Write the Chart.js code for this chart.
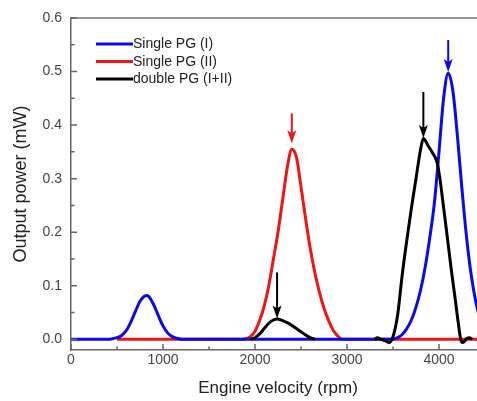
<!DOCTYPE html>
<html>
<head>
<meta charset="utf-8">
<script src="https://cdn.jsdelivr.net/npm/chart.js@4"></script>
<style>
html,body{margin:0;padding:0;background:#fff;overflow:hidden;}
#wrap{width:477px;height:401px;overflow:hidden;position:relative;}
canvas{display:block;}
</style>
</head>
<body>
<div id="wrap"><canvas id="c" width="490" height="401" style="width:490px;height:401px"></canvas></div>
<script>
// ---- data ----
const blueRpm   = [0, 400, 450, 500, 550, 600, 650, 700, 750, 800, 825, 850, 900, 950, 1000, 1050, 1100, 1150, 1200,
                   3500, 3550, 3600, 3650, 3700, 3750, 3800, 3850, 3900, 3950, 4000, 4050, 4100, 4150, 4200, 4250, 4300, 4350, 4400, 4450, 4500];
const bluePower = [0, 0, 0.001, 0.003, 0.007, 0.016, 0.032, 0.052, 0.071, 0.081, 0.082, 0.079, 0.064, 0.044, 0.025, 0.012, 0.005, 0.002, 0,
                   0, 0.003, 0.009, 0.02, 0.036, 0.06, 0.092, 0.135, 0.19, 0.255, 0.35, 0.45, 0.497, 0.465, 0.38, 0.28, 0.19, 0.12, 0.07, 0.035, 0.012];

const redRpm   = [500, 1850, 1900, 1950, 2000, 2050, 2100, 2150, 2200, 2250, 2300, 2350, 2400, 2450, 2500, 2550, 2600, 2650, 2700, 2750, 2800, 2850, 2900, 2950, 4500];
const redPower = [0, 0, 0.001, 0.005, 0.015, 0.035, 0.062, 0.1, 0.15, 0.2, 0.26, 0.32, 0.355, 0.34, 0.285, 0.225, 0.17, 0.125, 0.088, 0.058, 0.035, 0.017, 0.006, 0, 0];

const blackRpm   = [1950, 2000, 2050, 2100, 2150, 2200, 2240, 2300, 2350, 2400, 2450, 2500, 2550, 2600, 2650,
                    3000,
                    3300, 3330, 3370, 3420, 3460, 3500, 3550, 3600, 3650, 3700, 3750, 3800, 3830, 3880, 3930, 3980, 4010, 4040, 4080, 4130, 4180, 4210, 4240, 4260, 4300, 4330, 4360];
const blackPower = [0, 0.003, 0.01, 0.02, 0.03, 0.036, 0.038, 0.035, 0.031, 0.026, 0.02, 0.014, 0.008, 0.003, 0,
                    null,
                    0, 0.003, 0, -0.003, -0.006, 0.005, 0.045, 0.12, 0.185, 0.245, 0.3, 0.355, 0.375, 0.362, 0.348, 0.33, 0.3, 0.26, 0.205, 0.135, 0.07, 0.03, -0.003, -0.006, 0.001, 0.003, 0];

const seriesNames  = ['Single PG (I)', 'Single PG (II)', 'double PG (I+II)'];
const seriesColors = ['#0a0af0', '#f01414', '#000000'];

const xTicks = [0, 1000, 2000, 3000, 4000];
const xMinorTicks = [500, 1500, 2500, 3500];
const yTicks = [0, 0.1, 0.2, 0.3, 0.4, 0.5, 0.6];
const yMinorTicks = [0.05, 0.15, 0.25, 0.35, 0.45, 0.55];

// arrows: x position, top value, tip value, colour index
const arrowRpm   = [2400, 4100, 3830, 2240];
const arrowTop   = [0.422, 0.559, 0.462, 0.125];
const arrowTip   = [0.366, 0.499, 0.376, 0.039];
const arrowColor = [1, 0, 2, 2];

const xTitle = 'Engine velocity (rpm)';
const yTitle = 'Output power (mW)';

const FONT = '"Liberation Sans", Arial, sans-serif';

function pts(xs, ys){ return xs.map((x,i)=>({x:x, y:ys[i]})); }

const decor = {
  id:'decor',
  afterDatasetsDraw(chart){
    const ctx = chart.ctx, xs = chart.scales.x, ys = chart.scales.y;
    ctx.save();
    arrowRpm.forEach((r,i)=>{
      const px = xs.getPixelForValue(r);
      const pt = ys.getPixelForValue(arrowTop[i]);
      const pk = ys.getPixelForValue(arrowTip[i]);
      const col = seriesColors[arrowColor[i]];
      ctx.strokeStyle = col; ctx.fillStyle = col; ctx.lineWidth = 2;
      ctx.beginPath(); ctx.moveTo(px, pt); ctx.lineTo(px, pk - 8); ctx.stroke();
      ctx.beginPath();
      ctx.moveTo(px, pk);
      ctx.lineTo(px - 4.5, pk - 13);
      ctx.lineTo(px, pk - 10);
      ctx.lineTo(px + 4.5, pk - 13);
      ctx.closePath(); ctx.fill();
    });
    ctx.restore();
  },
  afterDraw(chart){
    const ctx = chart.ctx, xs = chart.scales.x, ys = chart.scales.y, a = chart.chartArea;
    ctx.save();
    ctx.strokeStyle = '#777'; ctx.lineWidth = 1.5;
    ctx.beginPath(); ctx.moveTo(a.left, a.top); ctx.lineTo(a.right, a.top); ctx.stroke();
    ctx.strokeStyle = '#666'; ctx.lineWidth = 1.5;
    ctx.beginPath();
    xTicks.forEach(v=>{ const p = xs.getPixelForValue(v); ctx.moveTo(p, a.bottom); ctx.lineTo(p, a.bottom - 6); });
    xMinorTicks.forEach(v=>{ const p = xs.getPixelForValue(v); ctx.moveTo(p, a.bottom); ctx.lineTo(p, a.bottom - 3.5); });
    yTicks.forEach(v=>{ const p = ys.getPixelForValue(v); ctx.moveTo(a.left, p); ctx.lineTo(a.left + 6, p); });
    yMinorTicks.forEach(v=>{ const p = ys.getPixelForValue(v); ctx.moveTo(a.left, p); ctx.lineTo(a.left + 3.5, p); });
    ctx.stroke();
    ctx.font = '14px ' + FONT;
    ctx.textBaseline = 'middle'; ctx.textAlign = 'left';
    seriesNames.forEach((n,i)=>{
      const y = 44 + i*17.5;
      ctx.strokeStyle = seriesColors[i]; ctx.lineWidth = 3;
      ctx.beginPath(); ctx.moveTo(96, y); ctx.lineTo(133, y); ctx.stroke();
      ctx.fillStyle = '#222';
      ctx.fillText(n, 133, y + 0.5);
    });
    ctx.fillStyle = '#222';
    ctx.textAlign = 'center'; ctx.textBaseline = 'middle';
    ctx.font = '17px ' + FONT;
    ctx.fillText(xTitle, (a.left + a.right)/2, 388);
    ctx.save();
    ctx.translate(21, (a.top + a.bottom)/2);
    ctx.rotate(-Math.PI/2);
    ctx.font = '18px ' + FONT;
    ctx.fillText(yTitle, 0, 0);
    ctx.restore();
    ctx.restore();
  }
};

const lineCommon = {pointRadius:0, borderWidth:3, fill:false, cubicInterpolationMode:'monotone', spanGaps:false};

new Chart(document.getElementById('c'), {
  type:'line',
  data:{
    datasets:[
      Object.assign({label:seriesNames[0], data:pts(blueRpm, bluePower), borderColor:seriesColors[0], order:1}, lineCommon),
      Object.assign({label:seriesNames[1], data:pts(redRpm, redPower), borderColor:seriesColors[1], order:2}, lineCommon),
      Object.assign({label:seriesNames[2], data:pts(blackRpm, blackPower), borderColor:seriesColors[2], order:0}, lineCommon)
    ]
  },
  options:{
    responsive:false, animation:false, devicePixelRatio:1,
    layout:{padding:{top:18, right:5, left:0, bottom:0}},
    plugins:{legend:{display:false}, tooltip:{enabled:false}},
    scales:{
      x:{
        type:'linear', min:0, max:4500,
        grid:{display:false, drawTicks:false},
        border:{display:true, color:'#666', width:1.5},
        afterBuildTicks(s){ s.ticks = xTicks.map(v=>({value:v})); },
        afterFit(s){ s.height = 51; },
        ticks:{color:'#444', font:{family:FONT, size:14}, padding:2, maxRotation:0, autoSkip:false,
               callback:(v)=>String(v)}
      },
      y:{
        type:'linear', min:-0.02, max:0.6,
        grid:{display:false, drawTicks:false},
        border:{display:true, color:'#666', width:1.5},
        afterBuildTicks(s){ s.ticks = yTicks.map(v=>({value:v})); },
        afterFit(s){ s.width = 71; },
        ticks:{color:'#444', font:{family:FONT, size:14}, padding:9, autoSkip:false,
               callback:(v)=>Number(v).toFixed(1)}
      }
    }
  },
  plugins:[decor]
});
</script>
</body>
</html>
